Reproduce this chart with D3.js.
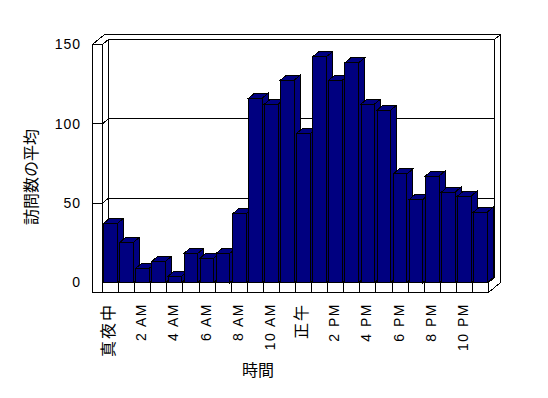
<!DOCTYPE html>
<html>
<head>
<meta charset="utf-8">
<script src="https://cdn.jsdelivr.net/npm/d3@7"></script>
<style>
  body { margin: 0; background: #fff; }
  svg { shape-rendering: crispEdges; }
  text { font-family: "Liberation Sans", Arial, sans-serif; fill: #000; }
  .cjk { font-family: "Noto Sans CJK JP", sans-serif; }
</style>
</head>
<body>
<script>
const width = 548;
const height = 398;

// hourly categories and average visit counts
const hours = ["真夜中", "1 AM", "2 AM", "3 AM", "4 AM", "5 AM", "6 AM", "7 AM", "8 AM", "9 AM", "10 AM", "11 AM",
               "正午", "1 PM", "2 PM", "3 PM", "4 PM", "5 PM", "6 PM", "7 PM", "8 PM", "9 PM", "10 PM", "11 PM"];
const visits = [37.3, 25.3, 9.1, 13.4, 3.9, 18.4, 15.4, 18.4, 43.2, 116.1, 112.5, 127.6,
                94, 142.3, 127.6, 138.5, 112.5, 108.7, 68.4, 52.4, 67.1, 57, 54.5, 44.4];
const tickHours = hours.filter((h, i) => i % 2 == 0);
const yTicks = [0, 50, 100, 150];

const yTitle = "訪問数の平均";
const xTitle = "時間";

const svg = d3.select("body")
	.append("svg")
	.attr("width", width)
	.attr("height", height);

const x = d3.scaleBand()
	.domain(hours)
	.range([102.5, 488.5])
	.paddingInner(0.15)
	.paddingOuter(0.075);

const y = d3.scaleLinear()
	.domain([0, 150])
	.range([282.5, 44.5]);

// depth offset of the 3d box
const dx = 6, dy = 5;
const wall = 10;   // thickness of left wall / floor front

const x0 = x.range()[0], x1 = x.range()[1];
const yT = y(150), y0 = y(0);
const xL = x0 - wall;

const line = d3.line();
const white = g => g.attr("fill", "#fff").attr("stroke", "#000").attr("stroke-width", 1);

// back wall
svg.append("rect")
	.attr("x", x0 + dx).attr("y", yT - dy)
	.attr("width", x1 - x0).attr("height", y0 - yT)
	.call(white);

// top of walls
svg.append("path")
	.attr("d", line([[xL, yT], [xL + 2*dx, yT - 2*dy], [x1 + 2*dx, yT - 2*dy], [x1 + dx, yT - dy], [x0 + dx, yT - dy], [x0, yT]]) + "Z")
	.call(white);

// right side of back wall + floor
svg.append("path")
	.attr("d", line([[x1, y0], [x1, y0 + wall], [x1 + 2*dx, y0 + wall - 2*dy], [x1 + 2*dx, yT - 2*dy], [x1 + dx, yT - dy], [x1 + dx, y0 - dy]]) + "Z")
	.call(white);

// inner face of left wall
svg.append("path")
	.attr("d", line([[x0, yT], [x0 + dx, yT - dy], [x0 + dx, y0 - dy], [x0, y0]]) + "Z")
	.call(white);

// floor top
svg.append("path")
	.attr("d", line([[x0, y0], [x1, y0], [x1 + dx, y0 - dy], [x0 + dx, y0 - dy]]) + "Z")
	.call(white);

// left wall front face
svg.append("rect")
	.attr("x", xL).attr("y", yT)
	.attr("width", wall).attr("height", y0 + wall - yT)
	.call(white);

// gridlines
svg.selectAll("path.grid")
	.data(yTicks.filter(v => v > 0 && v < 150))
	.enter()
	.append("path")
	.attr("class", "grid")
	.attr("fill", "none")
	.attr("stroke", "#000")
	.attr("d", v => line([[xL, y(v)], [x0, y(v)], [x0 + dx, y(v) - dy], [x1 + dx, y(v) - dy]]));

// floor front face with category dividers
svg.append("rect")
	.attr("x", x0).attr("y", y0)
	.attr("width", x1 - x0).attr("height", wall)
	.call(white);

svg.selectAll("line.div")
	.data(hours.slice(1))
	.enter()
	.append("line")
	.attr("class", "div")
	.attr("x1", (d, i) => x0 + (i + 1) * x.step())
	.attr("x2", (d, i) => x0 + (i + 1) * x.step())
	.attr("y1", y0).attr("y2", y0 + wall)
	.attr("stroke", "#000");

// bars
const bw = x.bandwidth();
const bars = svg.selectAll("g.bar")
	.data(hours.map((h, i) => ({ h: h, v: visits[i] })))
	.enter()
	.append("g")
	.attr("class", "bar")
	.attr("fill", "#000080")
	.attr("stroke", "#000");

bars.append("path")
	.attr("d", d => {
		const a = x(d.h) + bw, t = y(d.v);
		return line([[a, t], [a + dx, t - dy], [a + dx, y0 - dy], [a, y0]]) + "Z";
	});
bars.append("path")
	.attr("d", d => {
		const a = x(d.h), t = y(d.v);
		return line([[a, t], [a + dx, t - dy], [a + bw + dx, t - dy], [a + bw, t]]) + "Z";
	});
bars.append("rect")
	.attr("x", d => x(d.h))
	.attr("y", d => y(d.v))
	.attr("width", bw)
	.attr("height", d => y0 - y(d.v));

// y tick labels
svg.selectAll("text.ytick")
	.data(yTicks)
	.enter()
	.append("text")
	.attr("class", "ytick")
	.attr("x", 81)
	.attr("y", d => y(d))
	.attr("dy", "0.35em")
	.attr("text-anchor", "end")
	.attr("fill", "#000")
	.style("font-size", "14px")
	.style("letter-spacing", "1px")
	.text(d => d);

// x tick labels
svg.selectAll("text.xtick")
	.data(tickHours)
	.enter()
	.append("text")
	.attr("class", d => /AM|PM/.test(d) ? "xtick" : "xtick cjk")
	.attr("transform", d => `translate(${x(d) + bw / 2 + 3.5},303) rotate(-90)`)
	.attr("text-anchor", "end")
	.attr("fill", "#000")
	.style("font-size", d => /AM|PM/.test(d) ? "14px" : "16px")
	.style("letter-spacing", d => /AM|PM/.test(d) ? "1.5px" : "2px")
	.text(d => d);

// axis titles
svg.append("text")
	.attr("class", "cjk")
	.attr("transform", "translate(37,177) rotate(-90)")
	.attr("text-anchor", "middle")
	.attr("fill", "#000")
	.style("font-size", "16px")
	.text(yTitle);

svg.append("text")
	.attr("class", "cjk")
	.attr("x", 258)
	.attr("y", 376)
	.attr("text-anchor", "middle")
	.attr("fill", "#000")
	.style("font-size", "16px")
	.text(xTitle);
</script>
</body>
</html>
